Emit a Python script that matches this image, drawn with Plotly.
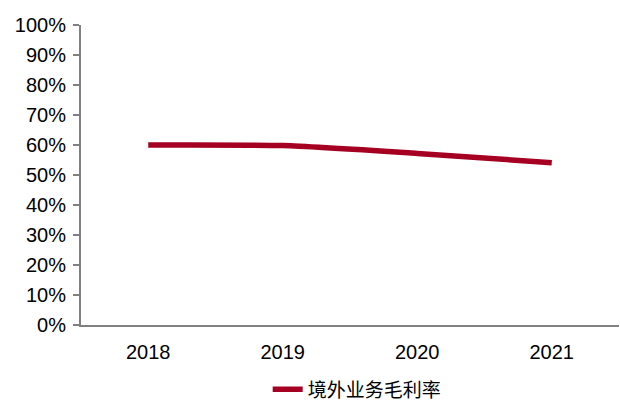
import plotly.graph_objects as go

years = ["2018", "2019", "2020", "2021"]
margin_rate = [0.600, 0.598, 0.572, 0.541]
series_name = "境外业务毛利率"
y_ticks = [i / 10 for i in range(11)]
y_tick_labels = [f"{i*10}%" for i in range(11)]

fig = go.Figure()
fig.add_trace(go.Scatter(
    x=years, y=margin_rate, mode="lines", name=series_name,
    line=dict(color="#A50021", width=5.5, shape="spline", smoothing=0.6),
))

fig.update_layout(
    width=620, height=403,
    margin=dict(l=81, r=1, t=25, b=78, autoexpand=False),
    paper_bgcolor="white", plot_bgcolor="white",
    font=dict(family="Liberation Sans, Arial, sans-serif", size=20, color="#000000"),
    showlegend=True,
    legend=dict(
        orientation="h", x=0.347, xanchor="left", y=-0.215, yanchor="middle",
        font=dict(family="Noto Sans CJK SC, sans-serif", size=19, color="#000000"),
        itemwidth=30, tracegroupgap=0,
    ),
    xaxis=dict(
        type="category", range=[-0.5, 3.5],
        showline=True, linecolor="#808080", linewidth=2,
        ticks="", showgrid=False, zeroline=False,
        tickfont=dict(size=20), ticklabelstandoff=8,
    ),
    yaxis=dict(
        range=[0, 1], tickvals=y_ticks, ticktext=y_tick_labels,
        showline=True, linecolor="#808080", linewidth=2,
        ticks="outside", ticklen=6, tickcolor="#808080", tickwidth=1.5,
        showgrid=False, zeroline=False,
        tickfont=dict(size=20), ticklabelstandoff=3,
    ),
)

fig.write_html("out.html")
